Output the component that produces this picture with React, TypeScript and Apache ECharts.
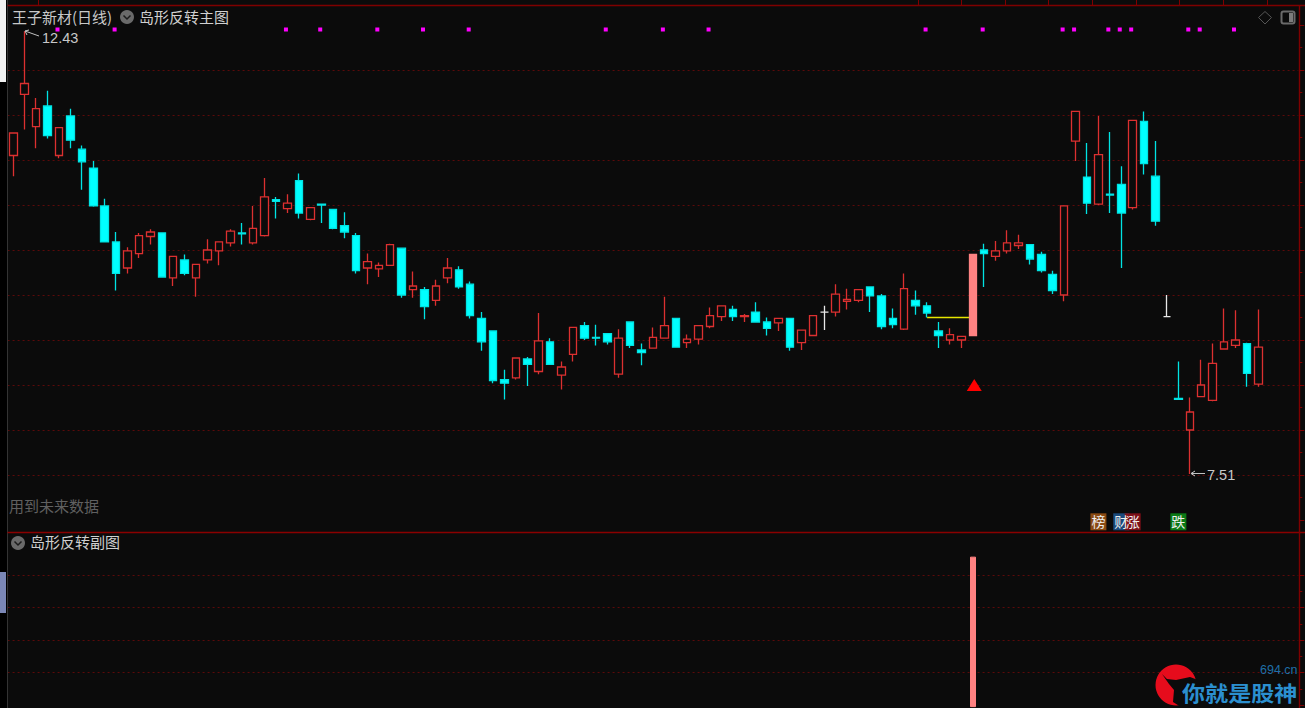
import { useEffect, useRef } from "react";
import * as echarts from "echarts";

const BG = "#0b0b0b";
const categories = Array.from({ length: 113 }, (_, i) => String(i + 1));

const opens = [
  11.05, 11.73, 11.37, 11.60, 11.05, 11.49, 11.12, 10.91, 10.49, 10.09,
  9.80, 9.96, 10.15, 10.19, 9.69, 9.89, 9.69, 9.89, 9.99, 10.08,
  10.19, 10.08, 10.16, 10.56, 10.46, 10.77, 10.34, 10.51, 10.45, 10.27,
  10.16, 9.80, 9.79, 9.83, 10.02, 9.56, 9.56, 9.44, 9.69, 9.78,
  9.62, 9.24, 9.10, 8.56, 8.58, 8.79, 8.65, 8.98, 8.61, 8.84,
  9.16, 9.03, 9.07, 8.62, 9.20, 8.89, 8.91, 9.02, 9.24, 8.97,
  9.01, 9.15, 9.26, 9.34, 9.26, 9.31, 9.20, 9.19, 9.24, 8.97,
  9.05, 9.31, 9.31, 9.43, 9.44, 9.59, 9.49, 9.24, 9.12, 9.44,
  9.38, 9.10, 9.00, 9.00, 9.05, 10.00, 9.93, 9.99, 10.05, 10.06,
  9.95, 9.73, 9.50, 11.21, 10.81, 10.51, 10.62, 10.73, 10.47, 11.43,
  10.82, 9.26, 8.35, 8.00, 8.37, 8.33, 8.90, 8.94, 8.96, 8.51,
];
const closes = [
  11.30, 11.85, 11.57, 11.27, 11.36, 11.22, 10.98, 10.49, 10.09, 9.74,
  9.99, 10.16, 10.20, 9.70, 9.93, 9.74, 9.84, 10.00, 10.09, 10.21,
  10.18, 10.24, 10.59, 10.54, 10.52, 10.41, 10.47, 10.50, 10.24, 10.20,
  9.77, 9.87, 9.83, 10.06, 9.50, 9.60, 9.37, 9.60, 9.80, 9.59,
  9.27, 8.98, 8.55, 8.52, 8.80, 8.73, 8.99, 8.73, 8.70, 9.14,
  9.02, 9.02, 8.98, 9.02, 8.94, 8.86, 9.03, 9.16, 8.92, 9.01,
  9.16, 9.27, 9.38, 9.26, 9.27, 9.20, 9.13, 9.24, 8.92, 9.11,
  9.27, 9.31, 9.51, 9.45, 9.56, 9.49, 9.15, 9.17, 9.57, 9.38,
  9.30, 9.05, 9.06, 9.04, 9.95, 9.96, 9.99, 10.08, 10.08, 9.90,
  9.77, 9.55, 10.49, 11.54, 10.52, 11.06, 10.61, 10.41, 11.44, 10.96,
  10.32, 9.26, 8.34, 8.20, 8.50, 8.74, 8.98, 9.00, 8.63, 8.92,
];
const lows = [
  10.82, 11.34, 11.13, 11.24, 11.02, 11.13, 10.67, 10.48, 10.09, 9.55,
  9.74, 9.91, 10.06, 9.70, 9.60, 9.72, 9.48, 9.85, 9.83, 10.04,
  10.06, 10.06, 10.15, 10.35, 10.41, 10.35, 10.33, 10.30, 10.23, 10.13,
  9.74, 9.62, 9.70, 9.83, 9.47, 9.47, 9.23, 9.38, 9.63, 9.57,
  9.24, 8.88, 8.52, 8.34, 8.56, 8.49, 8.62, 8.73, 8.45, 8.76,
  9.00, 8.94, 8.95, 8.58, 8.91, 8.72, 8.91, 9.02, 8.92, 8.91,
  8.95, 9.13, 9.21, 9.21, 9.20, 9.20, 9.05, 9.10, 8.88, 8.89,
  9.05, 9.11, 9.26, 9.34, 9.42, 9.31, 9.12, 9.13, 9.11, 9.28,
  9.25, 8.91, 8.95, 8.91, 9.05, 9.59, 9.88, 9.96, 10.01, 9.84,
  9.75, 9.51, 9.43, 10.99, 10.40, 10.50, 10.41, 9.80, 10.45, 10.84,
  10.27, 9.26, 8.34, 7.51, 8.37, 8.32, 8.90, 8.91, 8.48, 8.48,
];
const highs = [
  11.30, 12.43, 11.69, 11.77, 11.36, 11.57, 11.16, 10.99, 10.57, 10.20,
  10.03, 10.19, 10.23, 10.19, 9.93, 9.95, 9.84, 10.12, 10.09, 10.23,
  10.30, 10.49, 10.80, 10.59, 10.62, 10.85, 10.47, 10.51, 10.45, 10.42,
  10.19, 9.96, 9.86, 10.07, 10.02, 9.76, 9.59, 9.67, 9.91, 9.82,
  9.65, 9.31, 9.10, 8.67, 8.80, 8.81, 9.30, 9.02, 8.76, 9.14,
  9.20, 9.17, 9.07, 9.12, 9.20, 8.96, 9.14, 9.48, 9.24, 9.06,
  9.16, 9.36, 9.38, 9.38, 9.29, 9.42, 9.25, 9.24, 9.24, 9.11,
  9.27, 9.38, 9.62, 9.57, 9.56, 9.59, 9.51, 9.35, 9.74, 9.55,
  9.42, 9.20, 9.13, 9.04, 9.95, 10.07, 10.10, 10.22, 10.17, 10.06,
  9.98, 9.77, 10.49, 11.54, 11.19, 11.49, 11.31, 10.93, 11.44, 11.54,
  11.21, 9.50, 8.76, 8.36, 8.78, 8.96, 9.35, 9.33, 8.97, 9.34,
];

const whiteCandles = [71, 101];
const signalCandle = 84;
const signalDots = [4, 9, 24, 27, 32, 36, 40, 52, 57, 61, 80, 85, 92, 93, 96, 97, 98, 103, 104, 107];
const dotPrice = 12.45;
const trianglePrice = 8.5;
const yellowLine = [[80, 9.25], [84, 9.25]];
const tagCandles = [95, 97, 98, 102];
const tagTexts = ["榜", "财", "涨", "跌"];
const tagColors = ["#8a4a12", "#1a4a7c", "#7c1018", "#0b7a16"];
const tagPrice = 6.98;
const subBar = [-0.05, 4.55];

const RED = "#dc3030";
const CYAN = "#00ffff";
const CYAN_EDGE = "#00e4e4";
const PINK = "#ff8282";
const FRAME = "#7f0000";
const GRID = "#5c0a0a";
const CJK = '"Noto Sans CJK SC"';

const solid = (c: string) => ({ color: c, color0: c, borderColor: c, borderColor0: c, borderColorDoji: c });

const candleData = opens.map((o, i) => {
  const value = [o, closes[i], lows[i], highs[i]];
  if (whiteCandles.includes(i)) return { value, itemStyle: solid("#e8e8e8") };
  if (i === signalCandle) return { value: [o, closes[i], o, closes[i]], itemStyle: solid(PINK) };
  return { value };
});

const subData = opens.map((_, i) =>
  i === signalCandle ? [subBar[0], subBar[1], subBar[0], subBar[1]] : ["-", "-", "-", "-"]
);

const line = (x1: number, y1: number, x2: number, y2: number, stroke: string, lineWidth = 1) => ({
  type: "line",
  z: 10,
  shape: { x1, y1, x2, y2 },
  style: { stroke, lineWidth },
});
const label = (text: string, x: number, y: number, fill: string, font: string, z = 10) => ({
  type: "text",
  z,
  style: { text, x, y, fill, font, textVerticalAlign: "middle" },
});
const chevron = (cx: number, cy: number) => [
  { type: "circle", z: 10, shape: { cx, cy, r: 7 }, style: { fill: "#6a6a6a" } },
  {
    type: "polyline",
    z: 11,
    shape: { points: [[cx - 3.5, cy - 1.5], [cx, cy + 2], [cx + 3.5, cy - 1.5]] },
    style: { stroke: "#1c1c1c", lineWidth: 1.5, fill: "none" },
  },
];

const topTicks = [37.7, 918.3, 961, 1004.7, 1048.3, 1092.3, 1136, 1179.3, 1223.3, 1267.3];

const graphicElements: any[] = [
  { type: "rect", z: 9, shape: { x: 0, y: 0, width: 7, height: 708 }, style: { fill: "#000" } },
  { type: "rect", z: 10, shape: { x: 0, y: 0, width: 6, height: 82 }, style: { fill: "#f0f0f0" } },
  { type: "rect", z: 10, shape: { x: 0, y: 572, width: 6, height: 41 }, style: { fill: "#7b87b6" } },
  line(7.5, 0, 7.5, 708, "#333333"),
  line(7.5, 5.5, 1305, 5.5, FRAME, 1.6),
  line(7.5, 532.5, 1305, 532.5, "#8a0000", 1.6),
  line(1299.5, 5.5, 1299.5, 708, FRAME, 1.4),
  ...topTicks.map((x) => line(Math.round(x) + 0.5, 0, Math.round(x) + 0.5, 5, FRAME)),
  label("王子新材(日线)", 12, 16.5, "#c8c8c8", `15px ${CJK}`),
  ...chevron(127, 17),
  label("岛形反转主图", 139, 16.5, "#d0d0d0", `15px ${CJK}`),
  label("用到未来数据", 9, 505.5, "#606060", `15px ${CJK}`),
  ...chevron(18, 543),
  label("岛形反转副图", 30, 541.5, "#d0d0d0", `15px ${CJK}`),
  {
    type: "polygon",
    z: 10,
    shape: { points: [[1265, 11.5], [1271.5, 17.5], [1265, 24], [1258.5, 17.5]] },
    style: { fill: "none", stroke: "#555555", lineWidth: 1 },
  },
  {
    type: "rect",
    z: 10,
    shape: { x: 1281.5, y: 11.5, width: 13, height: 12, r: 2 },
    style: { fill: "none", stroke: "#6a6a6a", lineWidth: 2 },
  },
  { type: "rect", z: 10, shape: { x: 1289, y: 13, width: 4, height: 9 }, style: { fill: "#7c7c7c" } },
  { type: "polyline", z: 10, shape: { points: [[29, 30], [25, 31], [27, 35]] }, style: { stroke: "#c8c8c8", fill: "none", lineWidth: 1 } },
  line(25, 31, 39, 36, "#c0c0c0"),
  label("12.43", 42, 38, "#c8c8c8", '14.5px "Liberation Sans"'),
  { type: "polyline", z: 10, shape: { points: [[1195, 471], [1191, 473.5], [1195, 476]] }, style: { stroke: "#c8c8c8", fill: "none", lineWidth: 1 } },
  line(1191, 473.5, 1205, 473.5, "#c0c0c0"),
  label("7.51", 1207, 475, "#c8c8c8", '14.5px "Liberation Sans"'),
  // logo
  { type: "circle", z: 10, shape: { cx: 1176, cy: 685, r: 20.5 }, style: { fill: "#e60c1c" } },
  {
    type: "polygon",
    z: 11,
    shape: {
      points: [[1162, 674], [1167, 679], [1176, 680], [1190, 677], [1198, 680], [1198, 707], [1181, 707], [1173, 702], [1174, 690], [1169, 684]],
    },
    style: { fill: BG },
  },
  {
    type: "text",
    z: 12,
    x: 1182,
    y: 691,
    scaleX: 1.1,
    style: { text: "你就是股神", fill: "#2b8fcf", font: `bold 21px ${CJK}`, textVerticalAlign: "middle" },
  },
  label("694.cn", 1260, 669.5, "#1f6fa8", '12.5px "Liberation Sans"', 12),
];

const sharedY = {
  type: "value",
  position: "right",
  offset: 1,
  axisLine: { show: true, lineStyle: { color: FRAME } },
  axisLabel: { show: false },
  axisTick: { show: true, length: 5, lineStyle: { color: FRAME } },
  minorTick: { show: true, splitNumber: 2, length: 3, lineStyle: { color: FRAME } },
};
const gridLine = { show: true, showMinLine: false, lineStyle: { color: GRID, type: [2, 3], width: 1 } };
const sharedX = {
  type: "category",
  data: categories,
  axisLine: { show: false },
  axisTick: { show: false },
  axisLabel: { show: false },
  splitLine: { show: false },
};

export default function App() {
  const ref = useRef<HTMLDivElement>(null);
  useEffect(() => {
    document.documentElement.style.margin = "0";
    document.body.style.margin = "0";
    document.body.style.overflow = "hidden";
    const chart = echarts.init(ref.current!, null, { renderer: "svg" });
    chart.setOption({
      animation: false,
      backgroundColor: BG,
      tooltip: { show: false },
      grid: [
        { left: 7.6, top: 25, width: 1290.7, height: 495 },
        { left: 7.6, top: 575, width: 1290.7, height: 130 },
      ],
      xAxis: [
        { ...sharedX, gridIndex: 0 },
        { ...sharedX, gridIndex: 1 },
      ],
      yAxis: [
        { ...sharedY, gridIndex: 0, min: 7, max: 12.5, interval: 0.5, splitLine: { ...gridLine, showMaxLine: false } },
        { ...sharedY, gridIndex: 1, min: 0, max: 4, interval: 1, splitLine: gridLine },
      ],
      graphic: { elements: graphicElements },
      series: [
        {
          name: "yellow",
          type: "line",
          z: 1,
          symbol: "none",
          data: yellowLine,
          itemStyle: { color: "#e6e600" },
          lineStyle: { color: "#e6e600", width: 1.5, opacity: 1 },
        },
        {
          name: "K",
          type: "candlestick",
          barWidth: 8,
          clip: false,
          itemStyle: {
            color: BG,
            color0: CYAN,
            borderColor: RED,
            borderColor0: CYAN_EDGE,
            borderWidth: 1.3,
          },
          data: candleData,
        },
        {
          name: "signal",
          type: "scatter",
          symbol: "rect",
          symbolSize: 4,
          symbolOffset: [-1.5, 0],
          itemStyle: { color: "#ff00ff", opacity: 1 },
          data: signalDots.map((i) => [i, dotPrice]),
        },
        {
          name: "triangle",
          type: "scatter",
          symbol: "triangle",
          symbolSize: [15, 12],
          symbolOffset: [1.5, 0],
          z: 4,
          itemStyle: { color: "#ff0000", opacity: 1 },
          data: [[signalCandle, trianglePrice]],
        },
        {
          name: "tags",
          type: "scatter",
          symbol: "rect",
          symbolSize: [16, 17],
          clip: false,
          z: 4,
          data: tagCandles.map((i, k) => ({
            value: [i, tagPrice],
            itemStyle: { color: tagColors[k], opacity: 1 },
            label: {
              show: true,
              position: "inside",
              offset: [0, -1],
              formatter: tagTexts[k],
              color: "#efefef",
              fontSize: 14,
              fontFamily: "Noto Sans CJK SC",
            },
          })),
        },
        {
          name: "sub",
          type: "candlestick",
          xAxisIndex: 1,
          yAxisIndex: 1,
          barWidth: 6,
          clip: false,
          itemStyle: { ...solid(PINK), borderWidth: 1 },
          data: subData,
        },
      ],
    });
    return () => chart.dispose();
  }, []);
  return <div ref={ref} style={{ width: 1305, height: 708 }} />;
}
